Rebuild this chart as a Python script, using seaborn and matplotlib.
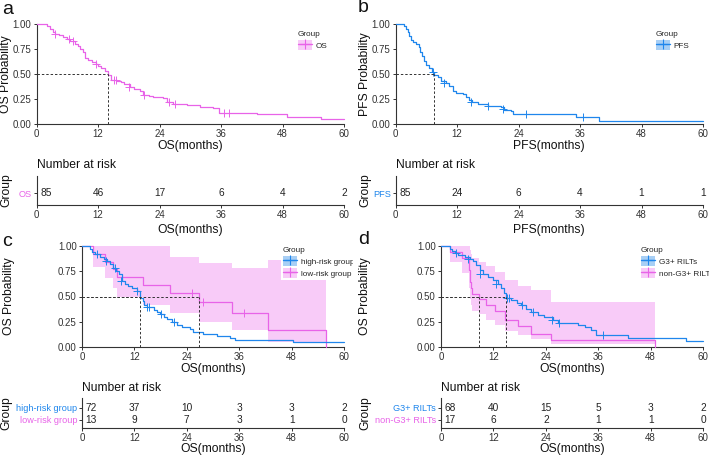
import numpy as np
import pandas as pd
import matplotlib
matplotlib.use("Agg")
import matplotlib.pyplot as plt
import seaborn as sns
from matplotlib.patches import Patch
from matplotlib.lines import Line2D
from matplotlib.transforms import Bbox, TransformedBbox

sns.set_style("ticks")
plt.rcParams['font.family'] = ['Liberation Sans', 'DejaVu Sans']

W, H = 709, 457
PINK = "#E863E8"
PINK_FILL = "#F8CBF8"
BLUE = "#1F86EC"
BLUE_FILL = "#A8CFF5"
DARK = "#333333"

months = [0, 12, 24, 36, 48, 60]

# ---- panel a: OS, all patients
os_t = [0, 2.0, 2.6, 3.1, 3.6, 4.4, 5.2, 6.0, 6.5, 7.5, 8.0, 8.5, 9.0, 9.4, 10.0, 10.7,
        11.5, 12.0, 12.6, 13.3, 14.0, 14.6, 15.6, 16.5, 17.0, 18.2, 19.0, 20.2, 20.8,
        22.0, 22.8, 24.7, 25.4, 26.7, 29.3, 31.9, 34.5, 35.5, 43.0, 48.8, 55.6]
os_s = [1.0, 0.98, 0.95, 0.92, 0.90, 0.89, 0.87, 0.85, 0.83, 0.80, 0.78, 0.75, 0.72, 0.66,
        0.64, 0.62, 0.60, 0.58, 0.56, 0.53, 0.49, 0.44, 0.43, 0.42, 0.40, 0.37, 0.35, 0.33,
        0.29, 0.28, 0.27, 0.26, 0.22, 0.20, 0.19, 0.17, 0.16, 0.11, 0.10, 0.075, 0.05]
os_cens_t = [3.5, 6.3, 7.0, 11.5, 15.0, 15.4, 18.0, 21.0, 25.8, 27.0, 36.5, 37.5]
os_cens_s = [0.90, 0.85, 0.83, 0.60, 0.44, 0.44, 0.37, 0.29, 0.22, 0.20, 0.11, 0.11]
os_risk = [85, 46, 17, 6, 4, 2]

# ---- panel b: PFS, all patients
pfs_t = [0, 1.75, 2.0, 2.4, 2.7, 3.1, 3.4, 4.0, 4.5, 4.8, 5.1, 5.5, 6.0, 6.6, 7.2, 7.6, 8.2,
         8.9, 9.9, 10.5, 11.2, 11.8, 13.1, 13.7, 14.4, 15.0, 16.0, 18.0, 20.6, 21.2, 22.5,
         23.0, 35.2, 39.8]
pfs_s = [1.0, 0.98, 0.95, 0.92, 0.88, 0.84, 0.82, 0.80, 0.77, 0.72, 0.68, 0.63, 0.59, 0.56,
         0.52, 0.49, 0.47, 0.43, 0.41, 0.38, 0.33, 0.31, 0.30, 0.27, 0.24, 0.22, 0.20, 0.18,
         0.17, 0.14, 0.13, 0.10, 0.07, 0.03]
pfs_cens_t = [7.4, 9.5, 14.8, 18.0, 21.0, 25.5, 36.5]
pfs_cens_s = [0.52, 0.41, 0.22, 0.18, 0.15, 0.10, 0.07]
pfs_risk = [85, 24, 6, 4, 1, 1]

# ---- panel c: OS by risk group
hr_t = [0, 1.9, 2.3, 3.0, 4.2, 5.0, 5.7, 6.5, 7.2, 7.8, 8.4, 9.1, 9.9, 10.6, 11.4, 12.6,
        13.3, 13.9, 14.3, 14.9, 16.4, 17.2, 17.9, 18.7, 19.4, 20.6, 21.7, 22.9, 24.8, 25.5,
        27.8, 30.9, 33.9, 35.1, 48.4]
hr_s = [1.0, 0.97, 0.94, 0.92, 0.89, 0.87, 0.85, 0.82, 0.78, 0.75, 0.72, 0.65, 0.62, 0.60,
        0.58, 0.55, 0.49, 0.46, 0.42, 0.40, 0.37, 0.35, 0.33, 0.30, 0.28, 0.25, 0.22, 0.20,
        0.18, 0.15, 0.13, 0.11, 0.09, 0.065, 0.05]
hr_cens_t = [3.5, 5.5, 7.5, 9.0, 12.5, 14.8, 15.3, 18.0, 21.0]
hr_cens_s = [0.92, 0.85, 0.78, 0.65, 0.55, 0.40, 0.40, 0.33, 0.25]
lr_t = [0, 2.6, 5.3, 7.2, 8.0, 14.0, 20.2, 26.7, 34.3, 42.7, 55.9]
lr_s = [1.0, 0.923, 0.846, 0.769, 0.692, 0.615, 0.538, 0.449, 0.337, 0.168, 0.0]
lr_lo = [1.0, 0.79, 0.68, 0.58, 0.50, 0.42, 0.34, 0.25, 0.17, 0.05, 0.0]
lr_hi = [1.0, 1.0, 1.0, 1.0, 1.0, 1.0, 0.89, 0.83, 0.78, 0.86, 0.0]
lr_cens_t = [25.3, 27.6, 37.0]
lr_cens_s = [0.538, 0.449, 0.337]
hr_risk = [72, 37, 10, 3, 3, 2]
lr_risk = [13, 9, 7, 3, 1, 0]

# ---- panel d: OS by RILT grade
g3_t = [0, 2.0, 2.6, 3.1, 3.9, 5.4, 6.6, 7.4, 8.1, 8.9, 9.6, 10.8, 11.9, 13.0, 13.8, 14.4,
        14.8, 16.1, 17.3, 18.4, 19.5, 20.6, 22.2, 23.7, 25.6, 26.7, 31.3, 32.9, 34.4, 35.5,
        42.8, 56.1]
g3_s = [1.0, 0.97, 0.95, 0.93, 0.91, 0.89, 0.87, 0.85, 0.81, 0.76, 0.72, 0.69, 0.66, 0.62,
        0.58, 0.53, 0.49, 0.47, 0.44, 0.42, 0.38, 0.35, 0.32, 0.30, 0.27, 0.24, 0.22, 0.20,
        0.17, 0.12, 0.09, 0.06]
g3_cens_t = [3.5, 6.2, 9.0, 12.5, 15.0, 15.5, 18.5, 21.0, 25.5, 27.0, 37.0]
g3_cens_s = [0.93, 0.87, 0.72, 0.62, 0.49, 0.49, 0.42, 0.35, 0.27, 0.24, 0.12]
ng_t = [0, 2.0, 4.9, 6.3, 6.6, 6.9, 7.0, 8.6, 10.4, 12.3, 14.6, 17.6, 20.7, 25.3, 48.9]
ng_s = [1.0, 0.941, 0.882, 0.765, 0.647, 0.588, 0.529, 0.471, 0.412, 0.353, 0.265, 0.206,
        0.132, 0.066, 0.0]
ng_lo = [1.0, 0.84, 0.73, 0.58, 0.48, 0.42, 0.36, 0.33, 0.27, 0.22, 0.16, 0.12, 0.08, 0.03, 0.0]
ng_hi = [1.0, 1.0, 1.0, 1.0, 0.96, 0.92, 0.88, 0.84, 0.80, 0.74, 0.66, 0.60, 0.56, 0.45, 0.0]
g3_risk = [68, 40, 15, 5, 3, 2]
ng_risk = [17, 6, 2, 1, 1, 0]


fig = plt.figure(figsize=(W / 100, H / 100), dpi=100)


def px_axes(l, t, r, b):
    return fig.add_axes([l / W, 1 - b / H, (r - l) / W, (b - t) / H])


def ftext(x, y, s, **kw):
    kw.setdefault("ha", "center")
    kw.setdefault("va", "center")
    fig.text(x / W, 1 - y / H, s, **kw)


def median(t, s):
    for ti, si in zip(t, s):
        if si <= 0.5:
            return ti
    return None


def km(ax, t, s, color, end=None, cens_t=(), cens_s=(), lo=None, hi=None):
    t = list(t)
    s = list(s)
    if lo is not None:
        ax.fill_between(t, lo, hi, step="post", color=PINK_FILL, lw=0, zorder=1)
    if end is not None and end > t[-1]:
        t.append(end)
        s.append(s[-1])
    df = pd.DataFrame({"t": t, "s": s})
    sns.lineplot(data=df, x="t", y="s", drawstyle="steps-post", estimator=None, sort=False,
                 color=color, lw=0.9, ax=ax, legend=False, zorder=3, clip_on=False)
    sns.scatterplot(x=list(cens_t), y=list(cens_s), marker="+", color=color, s=32,
                    linewidth=0.7, ax=ax, legend=False, zorder=4, clip_on=False)


def median_lines(ax, meds):
    for m in meds:
        ax.plot([0, m], [0.5, 0.5], color=DARK, lw=0.7, ls=(0, (2.5, 2)), zorder=5)
        ax.plot([m, m], [0, 0.5], color=DARK, lw=0.7, ls=(0, (2.5, 2)), zorder=5)


def style(ax, pad=1.5):
    ax.set_xlim(0, 60)
    ax.set_xticks(months)
    ax.set_xlabel("")
    ax.set_ylabel("")
    sns.despine(ax=ax)
    ax.tick_params(labelsize=7.0, length=2.5, width=0.7, pad=pad, colors=DARK)
    for sp in ax.spines.values():
        sp.set_linewidth(0.8)
        sp.set_color(DARK)


def style_main(ax):
    style(ax, pad=1.2)
    ax.set_ylim(0, 1)
    ax.set_yticks([0, 0.25, 0.5, 0.75, 1.0])
    ax.set_yticklabels(["0.00", "0.25", "0.50", "0.75", "1.00"])


def risk(ax, groups, counts, colors, rows):
    style(ax, pad=1.0)
    ax.set_ylim(0, 1)
    for y, cnts in zip(rows, counts):
        for m, c in zip(months, cnts):
            if m == 0:
                ax.text(0.8, y, str(c), ha="left", va="center", fontsize=7.3, color="#222222")
            else:
                ax.text(m, y, str(c), ha="center", va="center", fontsize=7.3, color="#222222")
    ax.set_yticks(rows)
    ax.set_yticklabels(groups, fontsize=6.6)
    for lab, col in zip(ax.get_yticklabels(), colors):
        lab.set_color(col)


def legend(ax, labels, colors, fills, x, y, clip_x=None):
    handles = [(Patch(facecolor=f, edgecolor="none"),
                Line2D([], [], color=c, lw=1, marker="+", markersize=7, mew=0.8))
               for c, f in zip(colors, fills)]
    leg = ax.legend(handles, labels, title="Group", loc="upper left",
                    bbox_to_anchor=(x / W, 1 - y / H), bbox_transform=fig.transFigure,
                    frameon=True, facecolor="white", edgecolor="none", framealpha=1,
                    fancybox=False, fontsize=5.9, title_fontsize=5.9, handlelength=1.75,
                    handleheight=1.6, handletextpad=0.4, borderpad=0.25, borderaxespad=0,
                    labelspacing=0.2, alignment="left")
    leg.set_zorder(10)
    if clip_x is not None:
        box = TransformedBbox(Bbox([[0, 0], [clip_x / W, 1]]), fig.transFigure)
        for txt in leg.get_texts():
            txt.set_clip_box(box)
            txt.set_clip_on(True)
    return leg


# ---------------- panel a
ax_a = px_axes(36.7, 24, 344, 124)
km(ax_a, os_t, os_s, PINK, end=60, cens_t=os_cens_t, cens_s=os_cens_s)
median_lines(ax_a, [median(os_t, os_s)])
style_main(ax_a)
legend(ax_a, ["OS"], [PINK], [PINK_FILL], 296, 29)

ra = px_axes(36.7, 176, 344, 205)
risk(ra, ["OS"], [os_risk], [PINK], [0.41])

# ---------------- panel b
ax_b = px_axes(395.5, 24, 703, 124)
km(ax_b, pfs_t, pfs_s, BLUE, end=60, cens_t=pfs_cens_t, cens_s=pfs_cens_s)
median_lines(ax_b, [median(pfs_t, pfs_s)])
style_main(ax_b)
legend(ax_b, ["PFS"], [BLUE], [BLUE_FILL], 654, 29)

rb = px_axes(395.5, 176, 703, 205)
risk(rb, ["PFS"], [pfs_risk], [BLUE], [0.41])

# ---------------- panel c
ax_c = px_axes(82, 246, 344, 347)
km(ax_c, lr_t, lr_s, PINK, cens_t=lr_cens_t, cens_s=lr_cens_s, lo=lr_lo, hi=lr_hi)
km(ax_c, hr_t, hr_s, BLUE, end=60, cens_t=hr_cens_t, cens_s=hr_cens_s)
median_lines(ax_c, [median(hr_t, hr_s), median(lr_t, lr_s)])
style_main(ax_c)
legend(ax_c, ["high-risk group", "low-risk group"], [BLUE, PINK], [BLUE_FILL, PINK_FILL],
       281, 245, clip_x=353)

rc = px_axes(82, 398, 344, 428)
risk(rc, ["high-risk group", "low-risk group"], [hr_risk, lr_risk], [BLUE, PINK], [0.68, 0.28])

# ---------------- panel d
ax_d = px_axes(441, 246, 703, 347)
km(ax_d, ng_t, ng_s, PINK, cens_t=(), cens_s=(), lo=ng_lo, hi=ng_hi)
km(ax_d, g3_t, g3_s, BLUE, end=60, cens_t=g3_cens_t, cens_s=g3_cens_s)
median_lines(ax_d, [median(g3_t, g3_s), median(ng_t, ng_s)])
style_main(ax_d)
legend(ax_d, ["G3+ RILTs", "non-G3+ RILTs"], [BLUE, PINK], [BLUE_FILL, PINK_FILL], 639, 245)

rd = px_axes(441, 398, 703, 428)
risk(rd, ["G3+ RILTs", "non-G3+ RILTs"], [g3_risk, ng_risk], [BLUE, PINK], [0.68, 0.28])

# ---------------- labels
lab = dict(fontsize=8.7, color="#111111")
ftext(6, 74, "OS Probability", rotation=90, **lab)
ftext(365, 74, "PFS Probability", rotation=90, **lab)
ftext(9, 296, "OS Probability", rotation=90, **lab)
ftext(365, 296, "OS Probability", rotation=90, **lab)
ftext(6, 190, "Group", rotation=90, **lab)
ftext(365, 190, "Group", rotation=90, **lab)
ftext(6, 413, "Group", rotation=90, **lab)
ftext(365, 413, "Group", rotation=90, **lab)

ftext(190, 146, "OS(months)", **lab)
ftext(549, 146, "PFS(months)", **lab)
ftext(190, 230, "OS(months)", **lab)
ftext(549, 230, "PFS(months)", **lab)
ftext(213, 369, "OS(months)", **lab)
ftext(572, 369, "OS(months)", **lab)
ftext(213, 449, "OS(months)", **lab)
ftext(572, 449, "OS(months)", **lab)

nr = dict(fontsize=8.7, color="#111111", ha="left")
ftext(37, 165, "Number at risk", **nr)
ftext(396, 165, "Number at risk", **nr)
ftext(82, 388, "Number at risk", **nr)
ftext(441, 388, "Number at risk", **nr)

pl = dict(fontsize=14, color="#111111", ha="left")
ftext(2, 9, "a", **pl)
ftext(358, 8, "b", **pl)
ftext(2, 241, "c", **pl)
ftext(358, 240, "d", **pl)

fig.savefig("out.png", dpi=100)
